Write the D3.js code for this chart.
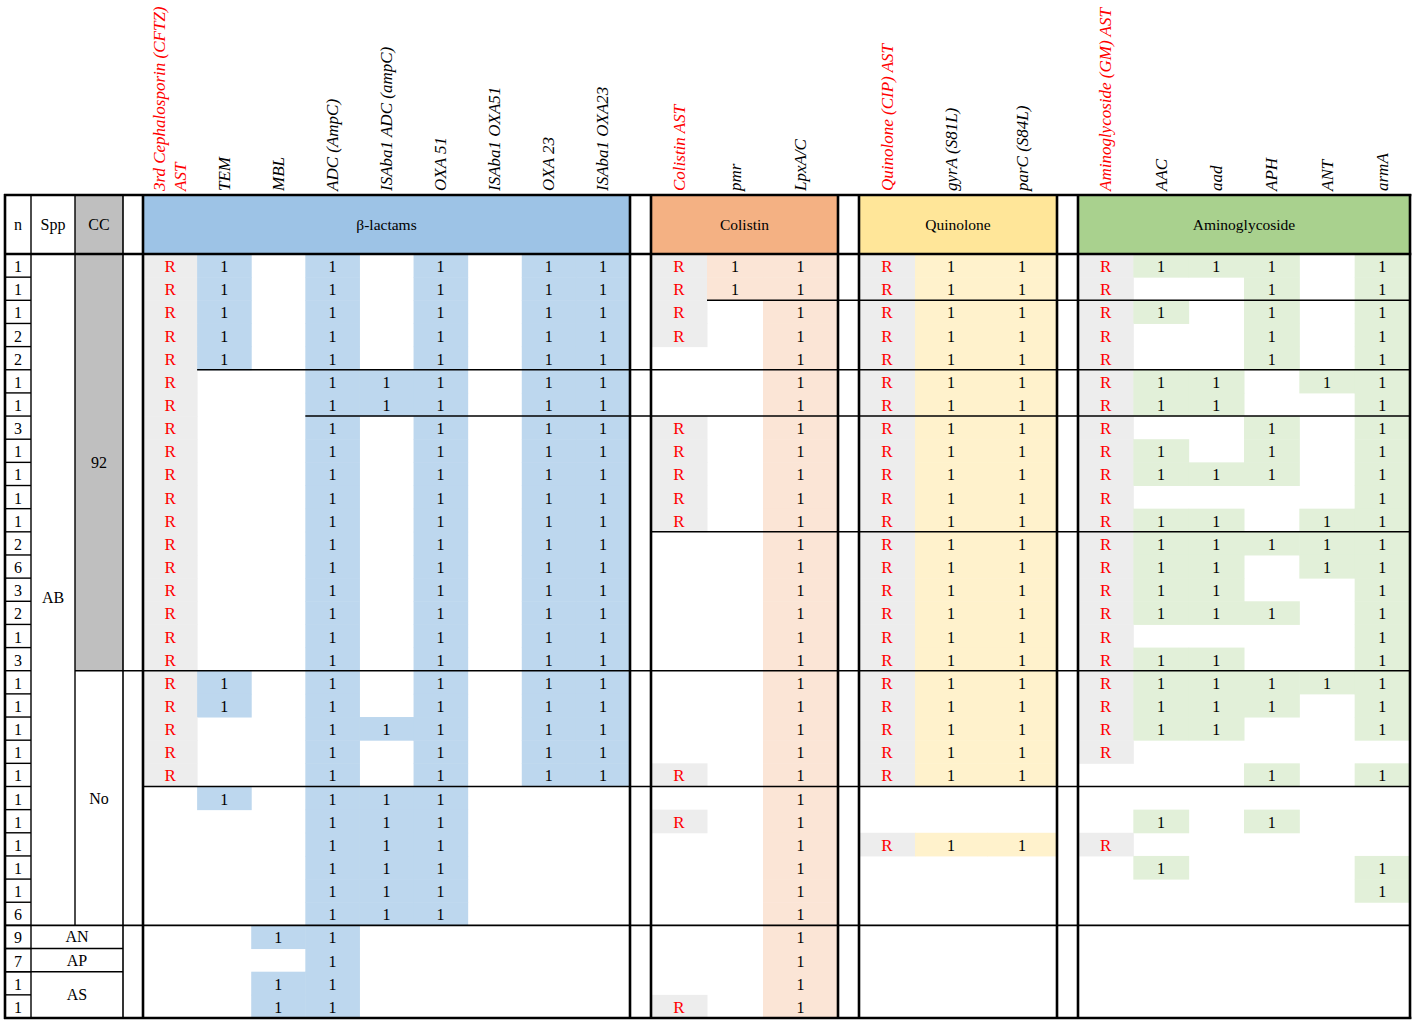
<!DOCTYPE html>
<html><head><meta charset="utf-8">
<script src="https://cdn.jsdelivr.net/npm/d3@7"></script>
<style>
body{margin:0;background:#fff;}
svg{display:block;}
text{font-family:"Liberation Serif","Times New Roman",serif;}
</style></head><body>
<svg id="chart" width="1417" height="1024"></svg>
<script>
// ---------------- DATA ----------------
const nValues = [1,1,1,2,2,1,1,3,1,1,1,1,2,6,3,2,1,3,1,1,1,1,1,1,1,1,1,1,6,9,7,1,1];
const sppGroups = [
  {label:"AB", start:0, end:29},
  {label:"AN", start:29, end:30},
  {label:"AP", start:30, end:31},
  {label:"AS", start:31, end:33}
];
const ccGroups = [
  {label:"92", start:0, end:18},
  {label:"No", start:18, end:29}
];
const blockNames = ["β-lactams","Colistin","Quinolone","Aminoglycoside"];
const betaLactamCols = ["3rd Cephalosporin (CFTZ)|AST","TEM","MBL","ADC (AmpC)","ISAba1 ADC (ampC)","OXA 51","ISAba1 OXA51","OXA 23","ISAba1 OXA23"];
const colistinCols = ["Colistin AST","pmr","LpxA/C"];
const quinoloneCols = ["Quinolone (CIP) AST","gyrA (S81L)","parC (S84L)"];
const aminoCols = ["Aminoglycoside (GM) AST","AAC","aad","APH","ANT","armA"];

// "R" = resistant (AST), "1" = gene present, "." = empty
const betaLactamRows = [
  "R1.1.1.11","R1.1.1.11","R1.1.1.11","R1.1.1.11","R1.1.1.11",
  "R..111.11","R..111.11",
  "R..1.1.11","R..1.1.11","R..1.1.11","R..1.1.11","R..1.1.11","R..1.1.11",
  "R..1.1.11","R..1.1.11","R..1.1.11","R..1.1.11","R..1.1.11",
  "R1.1.1.11","R1.1.1.11","R..111.11","R..1.1.11","R..1.1.11",
  ".1.111...","...111...","...111...","...111...","...111...","...111...",
  "..11.....","...1.....","..11.....","..11....."
];
const colistinRows = [
  "R11","R11","R.1","R.1","..1","..1","..1",
  "R.1","R.1","R.1","R.1","R.1",
  "..1","..1","..1","..1","..1","..1",
  "..1","..1","..1","..1","R.1",
  "..1","R.1","..1","..1","..1","..1",
  "..1","..1","..1","R.1"
];
const quinoloneRows = [
  "R11","R11","R11","R11","R11","R11","R11",
  "R11","R11","R11","R11","R11",
  "R11","R11","R11","R11","R11","R11",
  "R11","R11","R11","R11","R11",
  "...","...","R11","...","...","...",
  "...","...","...","..."
];
const aminoRows = [
  "R111.1","R..1.1","R1.1.1","R..1.1","R..1.1",
  "R11.11","R11..1",
  "R..1.1","R1.1.1","R111.1","R....1","R11.11",
  "R11111","R11.11","R11..1","R111.1","R....1","R11..1",
  "R11111","R111.1","R11..1","R.....","...1.1",
  "......",".1.1..","R.....",".1...1",".....1","......",
  "......","......","......","......"
];
// horizontal group separators (after row index, starting column)
const separators = [
  {after:2,  start:"Colistin:1"},
  {after:5,  start:"β-lactams:1"},
  {after:7,  start:"β-lactams:3"},
  {after:12, start:"Colistin:0"},
  {after:18, start:"cc"},
  {after:23, start:"β-lactams:0"},
  {after:29, start:"n"}
];

// ---------------- LAYOUT / STYLE ----------------
const G = {top:195, headBottom:254, rowsBottom:1018, n:[5,31], spp:[31,75], cc:[75,123], blank:[123,143], right:1410};
const blockStyle = [
  {x0:143, x1:630, weights:[1,1,1,1,1,1,1,1,1], fill:"#bdd7ee", head:"#9dc3e6"},
  {x0:651, x1:838, weights:[56,56,75], fill:"#fbe5d6", head:"#f4b183"},
  {x0:859, x1:1057, weights:[56,72,70], fill:"#fff2cc", head:"#ffe699"},
  {x0:1078, x1:1410, weights:[1,1,1,1,1,1], fill:"#e2f0d9", head:"#a9d18e"}
];
const AST_FILL = "#ededed", RED = "#ff0000", CC_FILL = "#bfbfbf";

const colLists = [betaLactamCols, colistinCols, quinoloneCols, aminoCols];
const rowLists = [betaLactamRows, colistinRows, quinoloneRows, aminoRows];

const blocks = blockNames.map((name,i) => {
  const st = blockStyle[i];
  const xs = d3.scaleLinear().domain([0, d3.sum(st.weights)]).range([st.x0, st.x1]);
  const edges = [0, ...d3.cumsum(st.weights)].map(xs);
  return {name, cols:colLists[i], rows:rowLists[i], edges, ...st};
});

const y = d3.scaleBand().domain(d3.range(nValues.length)).range([G.headBottom, G.rowsBottom]).paddingInner(0).paddingOuter(0);
const bw = y.bandwidth();

const svg = d3.select("#chart");
const gFill = svg.append("g"), gText = svg.append("g"), gLines = svg.append("g");

// ---- header fills ----
gFill.append("rect").attr("x",G.cc[0]).attr("y",G.top).attr("width",G.cc[1]-G.cc[0]).attr("height",G.headBottom-G.top).attr("fill",CC_FILL);
blocks.forEach(b => {
  gFill.append("rect").attr("x",b.x0).attr("y",G.top).attr("width",b.x1-b.x0).attr("height",G.headBottom-G.top).attr("fill",b.head);
});
// CC 92 fill
ccGroups.filter(g=>g.label==="92").forEach(g=>{
  gFill.append("rect").attr("x",G.cc[0]).attr("y",y(g.start)).attr("width",G.cc[1]-G.cc[0])
    .attr("height",y(g.end-1)+bw-y(g.start)).attr("fill",CC_FILL);
});

// ---- header texts ----
const headY = (G.top+G.headBottom)/2;
[["n",(G.n[0]+G.n[1])/2],["Spp",(G.spp[0]+G.spp[1])/2],["CC",(G.cc[0]+G.cc[1])/2]].forEach(([t,x])=>{
  gText.append("text").attr("x",x).attr("y",headY).attr("text-anchor","middle").attr("dominant-baseline","central")
    .attr("font-size",16).text(t);
});
blocks.forEach(b=>{
  gText.append("text").attr("x",(b.x0+b.x1)/2).attr("y",headY).attr("text-anchor","middle").attr("dominant-baseline","central")
    .attr("font-size",15.5).text(b.name);
});

// ---- rotated column labels ----
const labelBase = 191;
blocks.forEach(b=>{
  b.cols.forEach((lab,ci)=>{
    const cx = (b.edges[ci]+b.edges[ci+1])/2;
    const lines = lab.split("|");
    const isAST = ci===0;
    lines.forEach((ln,li)=>{
      const off = lines.length===1 ? 0 : (li===0 ? -11 : 10);
      gText.append("text")
        .attr("transform",`translate(${cx+off},${labelBase}) rotate(-90)`)
        .attr("text-anchor","start").attr("dominant-baseline","central")
        .attr("font-size",17).attr("font-style","italic")
        .attr("fill", isAST ? RED : "#000").text(ln);
    });
  });
});

// ---- data cells ----
blocks.forEach(b=>{
  b.rows.forEach((rowStr,ri)=>{
    rowStr.split("").forEach((ch,ci)=>{
      if (ch===".") return;
      const x0 = b.edges[ci], x1 = b.edges[ci+1];
      gFill.append("rect").attr("x",x0).attr("y",y(ri)).attr("width",x1-x0+0.5).attr("height",bw+0.5)
        .attr("fill", ch==="R" ? AST_FILL : b.fill);
      gText.append("text").attr("x",(x0+x1)/2).attr("y",y(ri)+bw/2+1)
        .attr("text-anchor","middle").attr("dominant-baseline","central")
        .attr("font-size",ch==="R"?17:16)
        .attr("font-family", ch==="R" ? "'Liberation Mono','Courier New',monospace" : null)
        .attr("fill", ch==="R" ? RED : "#000").text(ch);
    });
  });
});

// ---- left columns text ----
nValues.forEach((v,i)=>{
  gText.append("text").attr("x",(G.n[0]+G.n[1])/2).attr("y",y(i)+bw/2+1).attr("text-anchor","middle")
    .attr("dominant-baseline","central").attr("font-size",16).text(v);
});
sppGroups.forEach(g=>{
  const yc = (y(g.start)+y(g.end-1)+bw)/2;
  const single = g.label!=="AB";
  const xc = single ? (G.spp[0]+G.cc[1])/2 : (G.spp[0]+G.spp[1])/2;
  gText.append("text").attr("x",xc).attr("y",yc+(single?0:8)).attr("text-anchor","middle")
    .attr("dominant-baseline","central").attr("font-size",16).text(g.label);
});
ccGroups.forEach(g=>{
  const yc = (y(g.start)+y(g.end-1)+bw)/2;
  gText.append("text").attr("x",(G.cc[0]+G.cc[1])/2).attr("y",yc).attr("text-anchor","middle")
    .attr("dominant-baseline","central").attr("font-size",16).text(g.label);
});

// ---- lines ----
const line = (x1,y1,x2,y2,w)=>gLines.append("line").attr("x1",x1).attr("y1",y1).attr("x2",x2).attr("y2",y2)
  .attr("stroke","#000").attr("stroke-width",w);
const yEnd = i => y(i-1)+bw;

// n-column cell boxes
nValues.forEach((v,i)=>{ line(G.n[0],yEnd(i+1),G.n[1],yEnd(i+1),1.4); });
// spp group boundaries (small groups)
sppGroups.slice(1).forEach(g=>{ line(G.n[0],yEnd(g.end),G.cc[1],yEnd(g.end),1.4); });
// separators
const startX = key => {
  if (key==="n") return G.n[0];
  if (key==="cc") return G.cc[0];
  const [bn,ci] = key.split(":");
  const b = blocks.find(d=>d.name===bn);
  return b.edges[+ci];
};
separators.forEach(s=>{ line(startX(s.start),yEnd(s.after),G.right,yEnd(s.after),1.6); });

// verticals
line(G.n[1],G.top,G.n[1],G.rowsBottom,1.4);
line(G.spp[1],G.top,G.spp[1],yEnd(29),1.4);
line(G.cc[1],G.top,G.cc[1],G.rowsBottom,1.6);
[G.n[0], ...blocks.flatMap(b=>[b.x0,b.x1])].forEach(x=>line(x,G.top-1,x,G.rowsBottom+1,2.6));
// top, header bottom, bottom
line(G.n[0]-1,G.top,G.right+1.3,G.top,2.6);
line(G.n[0]-1,G.headBottom,G.right+1.3,G.headBottom,2.4);
line(G.n[0]-1,G.rowsBottom,G.right+1.3,G.rowsBottom,2.6);
</script>
</body></html>
